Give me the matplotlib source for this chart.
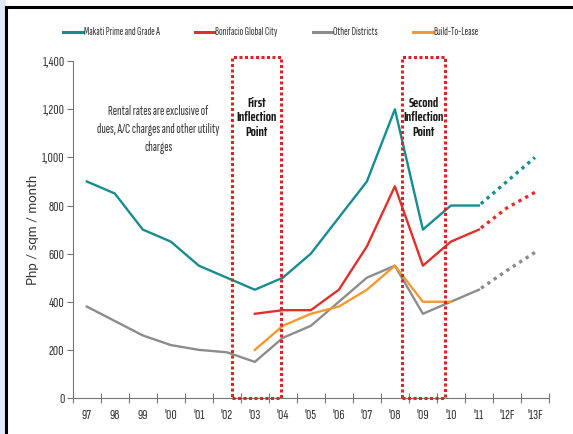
import numpy as np
import matplotlib
matplotlib.use("Agg")
import matplotlib.pyplot as plt
from matplotlib.lines import Line2D
from matplotlib.patches import Rectangle
from matplotlib.ticker import FuncFormatter

plt.rcParams["font.family"] = ["Sofia Sans Extra Condensed", "Archivo Narrow", "DejaVu Sans"]

# -------------------------
# data
# -------------------------
years = ["97", "98", "99", "'00", "'01", "'02", "'03", "'04", "'05", "'06",
         "'07", "'08", "'09", "'10", "'11", "'12F", "'13F"]

nan = np.nan
makati = [900, 850, 700, 650, 550, 500, 450, 500, 600, 750, 900, 1200, 700, 800, 800, nan, nan]
bgc = [nan, nan, nan, nan, nan, nan, 350, 365, 365, 450, 630, 880, 550, 650, 700, nan, nan]
other = [380, 320, 260, 220, 200, 190, 150, 250, 300, 400, 500, 550, 350, 400, 450, nan, nan]
btl = [nan, nan, nan, nan, nan, nan, 200, 300, 350, 380, 450, 550, 400, 400, nan, nan, nan]

# forecasts (dotted), from '11 to '13F
fc_idx = [14, 15, 16]
makati_fc = [800, 900, 1000]
bgc_fc = [700, 790, 855]
other_fc = [450, 530, 605]

series_names = ["Makati Prime and Grade A", "Bonifacio Global City", "Other Districts", "Build-To-Lease"]

# inflection point boxes (x range in category units)
boxes = [(5.2, 6.92, "First\nInflection\nPoint"), (11.25, 12.78, "Second\nInflection\nPoint")]

note = "Rental rates are exclusive of\ndues, A/C charges and other utility\ncharges"

teal = "#178c91"
red = "#e0302e"
grey = "#8c8c8c"
orange = "#f5992c"
box_red = "#d8262a"
colors = [teal, red, grey, orange]

fig = plt.figure(figsize=(5.73, 4.34), dpi=100)
ax = fig.add_axes([0.127, 0.083, 0.831, 0.776])

x = np.arange(len(years))
for vals, c in zip([makati, bgc, other, btl], colors):
    ax.plot(x, vals, color=c, lw=1.7)

dots = (1.5, (1, 1.3))
ax.plot(fc_idx, makati_fc, color=teal, lw=2.4, ls=dots)
ax.plot(fc_idx, bgc_fc, color=red, lw=2.4, ls=dots)
ax.plot(fc_idx, other_fc, color=grey, lw=2.4, ls=dots)

for x0, x1, txt in boxes:
    r = Rectangle((x0, 0), x1 - x0, 1418, fill=False, ec=box_red, lw=2.2,
                  ls=(0, (1, 0.8)), clip_on=False, zorder=5)
    ax.add_patch(r)
    ax.text((x0 + x1) / 2, 1165, txt, ha="center", va="center", fontsize=10,
            family=["Saira ExtraCondensed", "Archivo Narrow"], fontweight="bold",
            color="#1a1a1a", linespacing=1.15)

ax.text(2.55, 1115, note, ha="center", va="center", fontsize=9.4,
        color="#333333", linespacing=1.5)

ax.set_xlim(-0.5, 16.5)
ax.set_ylim(0, 1400)
ax.set_yticks(range(0, 1401, 200))
ax.yaxis.set_major_formatter(FuncFormatter(lambda v, p: f"{int(v):,}"))
ax.set_xticks(np.arange(-0.5, 16.6, 1))
ax.set_xticklabels([])
ax.set_xticks(x, minor=True)
ax.set_xticklabels(years, minor=True)
ax.tick_params(axis="x", which="minor", length=0, pad=8, labelsize=10.5, labelcolor="#333333")
ax.tick_params(axis="x", which="major", direction="inout", length=7, color="#777777")
ax.tick_params(axis="y", length=4, color="#777777", labelsize=10.5, pad=2, labelcolor="#333333")

for s in ["top", "right"]:
    ax.spines[s].set_visible(False)
for s in ["left", "bottom"]:
    ax.spines[s].set_color("#777777")

ax.set_ylabel("Php / sqm / month", fontsize=9.5, family=["Lato", "DejaVu Sans"],
              color="#333333")
ax.yaxis.set_label_coords(-0.07, 0.5)

# legend row across the top
leg_x = [0.110, 0.340, 0.546, 0.721]
for lx, name, c in zip(leg_x, series_names, colors):
    fig.add_artist(Line2D([lx, lx + 0.034], [0.926, 0.926], color=c, lw=2.2,
                          transform=fig.transFigure))
    fig.text(lx + 0.036, 0.926, name, ha="left", va="center", fontsize=7.9,
             color="#333333")

# slide frame
fig.patches.append(Rectangle((0, 0), 0.009, 1, transform=fig.transFigure,
                             color="#dcebf7", zorder=0))
fig.add_artist(Line2D([0.0105, 0.0105], [0, 0.984], color="black", lw=2.2,
                      transform=fig.transFigure))
fig.add_artist(Line2D([0.0105, 1], [0.983, 0.983], color="black", lw=2.2,
                      transform=fig.transFigure))

fig.savefig("out.png", dpi=100)
